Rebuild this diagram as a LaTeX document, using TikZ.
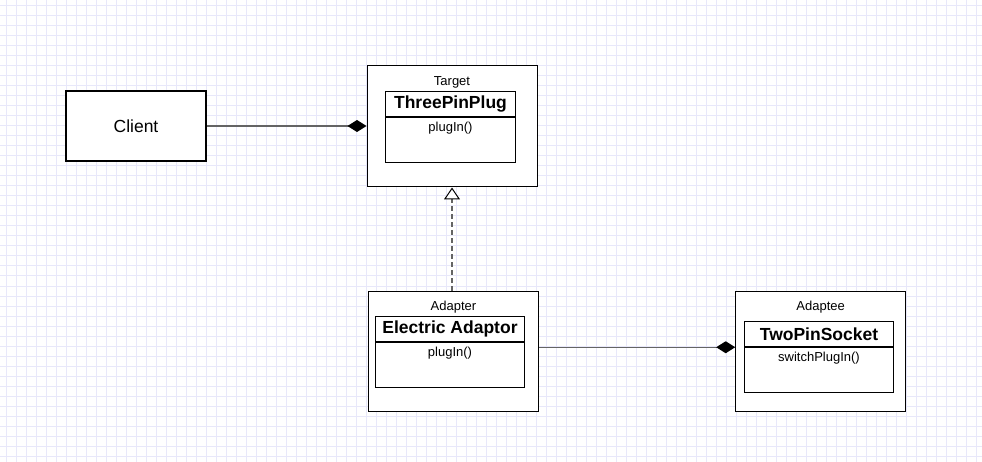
\documentclass[tikz,border=0pt]{standalone}
\usepackage{fontspec}
\setmainfont{Liberation Sans}
\usetikzlibrary{arrows.meta,calc}
\definecolor{gridcol}{RGB}{232,232,250}
\definecolor{linecol}{RGB}{100,100,100}
\tikzset{
  outerbox/.style={draw,line width=1pt,fill=white,inner sep=0pt,minimum width=170pt,minimum height=120pt},
  namebox/.style={draw,line width=1pt,fill=white,inner sep=0pt,minimum height=25pt,font=\fontsize{17.5}{20}\selectfont\bfseries},
  bodybox/.style={draw,line width=1pt,fill=white,inner sep=0pt,minimum height=45pt},
  small/.style={inner sep=0pt,font=\fontsize{13}{15}\selectfont},
  assoc/.style={draw=linecol,line width=1.5pt,-{Diamond[length=19pt,width=12pt,black,fill=black]}},
  realize/.style={draw=linecol,line width=1.5pt,dash pattern=on 5pt off 3pt,-{Triangle[open,length=12pt,width=16pt,line width=1pt,black,fill=white]}}
}
\begin{document}
\begin{tikzpicture}[x=1pt,y=-1pt]
%background and grid
\fill[white] (0,0) rectangle (982,462);
\useasboundingbox (0,0) rectangle (982,462);
\foreach \gx in {6,16,...,976}
  \draw[gridcol,line width=1pt] (\gx,0) -- (\gx,462);
\foreach \gy in {6,16,...,456}
  \draw[gridcol,line width=1pt] (0,\gy) -- (982,\gy);
%
\node[draw,line width=2pt,fill=white,minimum width=140pt,minimum height=70pt,font=\fontsize{17.5}{20}\selectfont] (client) at (136,126) {Client};
%target
\node[outerbox,minimum height=121pt] (target) at (452,126.5) {};
\node[small] (targetLbl) at (452,82) {Target};
\node[namebox,minimum width=130pt] (tppName) at (450.5,103.8) {ThreePinPlug};
\node[bodybox,minimum width=130pt,anchor=north] (tppBody) at (tppName.south) {};
\node[small,anchor=north] (tppOp) at ([yshift=-5.5pt]tppBody.north) {plugIn()};
%adapter
\node[outerbox,minimum height=119.5pt] (adapter) at (453.5,351.25) {};
\node[small] (adapterLbl) at (453.5,307.3) {Adapter};
\node[namebox,minimum width=148.6pt] (eaName) at (450,328.8) {Electric Adaptor};
\node[bodybox,minimum width=148.6pt,anchor=north] (eaBody) at (eaName.south) {};
\node[small,anchor=north] (eaOp) at ([yshift=-5.5pt]eaBody.north) {plugIn()};
%adaptee
\node[outerbox,minimum height=119.5pt] (adaptee) at (820.7,351.25) {};
\node[small] (adapteeLbl) at (820.7,307.3) {Adaptee};
\node[namebox,minimum width=149.4pt] (tpsName) at (819,333.8) {TwoPinSocket};
\node[bodybox,minimum width=149.4pt,anchor=north] (tpsBody) at (tpsName.south) {};
\node[small,anchor=north] (tpsOp) at ([yshift=-5.5pt]tpsBody.north) {switchPlugIn()};
%connectors
\draw[assoc] (client.east) -- (client.east -| target.west);
\draw[assoc] ([yshift=4pt]adapter.east) -- ([yshift=4pt]adaptee.west);
\draw[realize] (adapter.north -| target.south) -- (target.south);
\end{tikzpicture}
\end{document}
